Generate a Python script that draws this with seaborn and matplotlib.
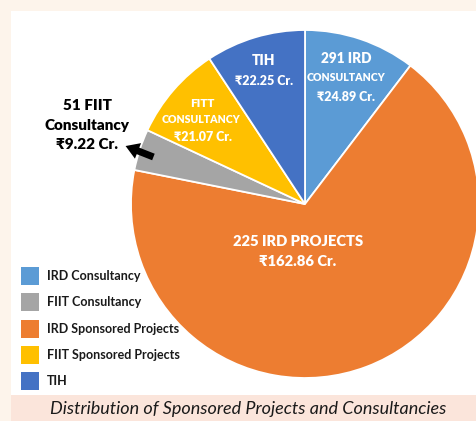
import matplotlib
matplotlib.use("Agg")
import matplotlib.pyplot as plt
from matplotlib.patches import Rectangle, FancyArrowPatch
import seaborn as sns

sns.set_style("white")
plt.rcParams["font.family"] = ["Lato", "DejaVu Sans"]

# Slices in drawing order (clockwise from 12 o'clock)
slice_names = ["IRD Consultancy", "IRD Sponsored Projects", "FIIT Consultancy",
               "FIIT Sponsored Projects", "TIH"]
slice_values = [24.89, 162.86, 9.22, 21.07, 22.25]

# Legend order
legend_names = ["IRD Consultancy", "FIIT Consultancy", "IRD Sponsored Projects",
                "FIIT Sponsored Projects", "TIH"]

colors = dict(zip(
    ["IRD Consultancy", "FIIT Consultancy", "IRD Sponsored Projects",
     "FIIT Sponsored Projects", "TIH"],
    sns.color_palette(["#5B9BD5", "#A5A5A5", "#ED7D31", "#FFC000", "#4472C4"]),
))

W, H = 476, 421
CX, CY, R = 305, 204, 174   # pie centre and radius in pixels


def px(x, y):
    """Pixel position (from top-left) -> data coordinates of the pie axes."""
    return (x - CX) / R, (CY - y) / R


fig = plt.figure(figsize=(W / 100, H / 100), dpi=100)
fig.patch.set_facecolor("#FDF4EB")

ax = fig.add_axes([0, 0, 1, 1])
ax.set_facecolor("none")

# white panel and caption band
ax.add_patch(Rectangle((11 / W, (H - 395) / H), 1, 384 / H,
                       transform=fig.transFigure, facecolor="white",
                       edgecolor="none", zorder=-10))
ax.add_patch(Rectangle((11 / W, 0), 1, (H - 395) / H,
                       transform=fig.transFigure, facecolor="#FBE5DB",
                       edgecolor="none", zorder=-10))

ax.pie(slice_values, colors=[colors[n] for n in slice_names], startangle=90,
       counterclock=False, radius=1,
       wedgeprops=dict(edgecolor="white", linewidth=1.3))

x0, y0 = px(0, H)
x1, y1 = px(W, 0)
ax.set_xlim(x0, x1)
ax.set_ylim(y0, y1)
ax.set_aspect("equal")
ax.axis("off")

white = dict(color="white", ha="center", va="center", fontweight="heavy")

lines = [
    ("291 IRD", 346, 59, 9.8), ("CONSULTANCY", 346, 78, 7.6), ("₹24.89 Cr.", 346, 97, 9.0),
    ("TIH", 264, 61, 9.8), ("₹22.25 Cr.", 264, 81, 9.0),
    ("FITT", 202, 104, 8.4), ("CONSULTANCY", 201, 120, 7.6), ("₹21.07 Cr.", 203, 137, 9.0),
    ("225 IRD PROJECTS", 298, 242, 10.6), ("₹162.86 Cr.", 298, 262, 10.6),
]
for txt, x, y, fs in lines:
    ax.text(*px(x, y), txt, fontsize=fs, **white)

for txt, y in [("51 FIIT", 106), ("Consultancy", 126), ("₹9.22 Cr.", 145)]:
    ax.text(*px(87, y), txt, fontsize=11, color="black", ha="center",
            va="center", fontweight="heavy")

ax.add_patch(FancyArrowPatch(px(156, 158), px(123, 145),
                             arrowstyle="simple,head_length=0.8,head_width=1.0,tail_width=0.42",
                             mutation_scale=12, color="black", lw=0, zorder=5))

# legend drawn as coloured squares with labels
for i, name in enumerate(legend_names):
    y = 276 + i * 26.3
    sx, sy = px(21, y + 9)
    ax.add_patch(Rectangle((sx, sy), 18 / R, 18 / R, facecolor=colors[name],
                           edgecolor="none"))
    ax.text(*px(47, y), name, fontsize=9, fontweight="bold", color="#1a1a1a",
            ha="left", va="center")

ax.text(*px(248, 409), "Distribution of Sponsored Projects and Consultancies",
        fontsize=13, fontstyle="italic", color="#1a1a1a", ha="center", va="center")

fig.savefig("out.png", dpi=100, facecolor=fig.get_facecolor())
